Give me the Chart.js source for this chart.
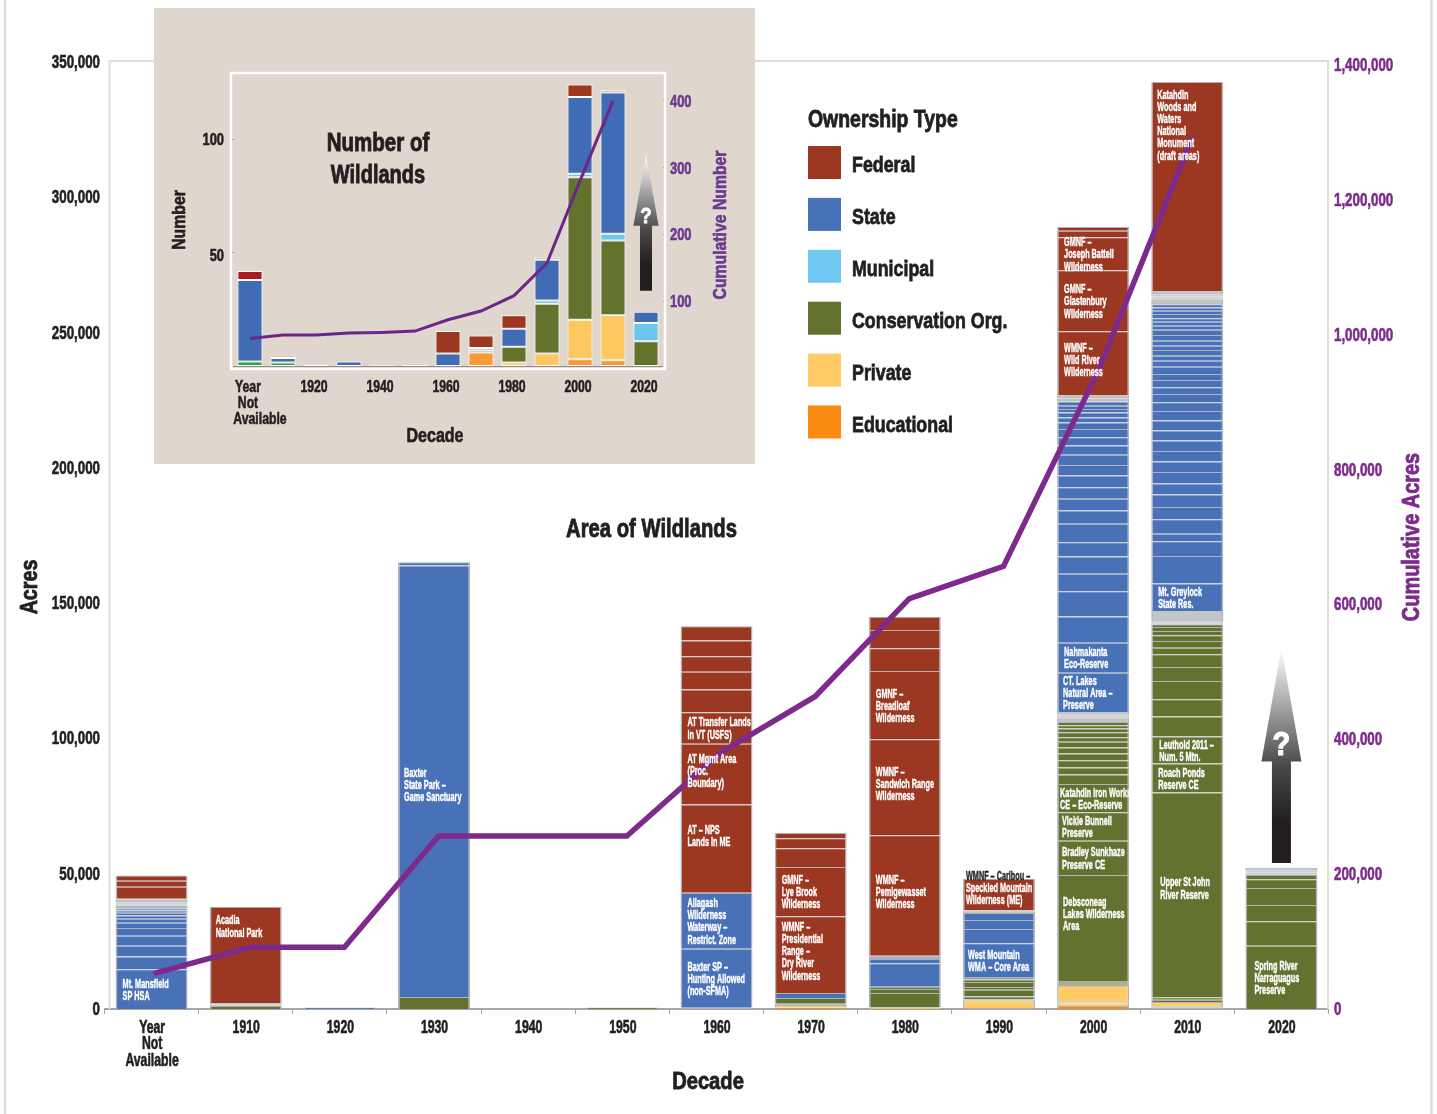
<!DOCTYPE html>
<html>
<head>
<meta charset="utf-8">
<title>Wildlands</title>
<script src="https://cdn.jsdelivr.net/npm/chart.js@4"></script>
<style>
    html, body { margin: 0; padding: 0; background: #fff; }
    #page { position: relative; width: 1437px; height: 1114px; overflow: hidden; }
    #mainChart { position: absolute; left: 0; top: 0; }
    #insetChart { position: absolute; left: 154px; top: 8px; background: #dfd6cd; }
</style>
</head>
<body>
<div id="page">
    <canvas id="mainChart" width="1437" height="1114"></canvas>
    <canvas id="insetChart" width="601" height="456"></canvas>
</div>
<script>
// main chart: one list per decade, each wildland from the ground up: [owner, acres, label]
const decades = [['Year', 'Not', 'Available'], '1910', '1920', '1930', '1940', '1950', '1960', '1970', '1980', '1990', '2000', '2010', '2020'];

const acresNA = [['S', 14700, 'Mt. Mansfield|SP HSA'], ['S', 4700], ['S', 3950], ['S', 3700], ['S', 2850], ['S', 2000], ['S', 1500], ['S', 1200], ['S', 1000], ['S', 800], ['S', 700], ['S', 600], ['S', 500], ['S', 430], ['S', 430], ['S', 430], ['S', 430], ['S', 430], ['S', 430], ['F', 4400], ['F', 2200], ['F', 2000]];
const acres1910 = [['C', 1200], ['S', 500], ['F', 500], ['F', 35600, 'Acadia|National Park']];
const acres1920 = [['S', 600]];
const acres1930 = [['C', 4400], ['S', 159500, 'Baxter|State Park –|Game Sanctuary'], ['S', 1200]];
const acres1940 = [['S', 200]];
const acres1950 = [['C', 600]];
const acres1960 = [['C', 500], ['S', 21800, 'Baxter SP –|Hunting Allowed|(non-SFMA)'], ['S', 20700, 'Allagash|Wilderness|Waterway –|Restrict. Zone'], ['F', 32600, 'AT – NPS|Lands in ME'], ['F', 22400, 'AT Mgmt Area|(Proc.|Boundary)'], ['F', 11700, 'AT Transfer Lands|in VT (USFS)'], ['F', 8400], ['F', 6500], ['F', 5800], ['F', 5800], ['F', 5300]];
const acres1970 = [['E', 600], ['P', 900], ['C', 400], ['C', 2200], ['S', 1850], ['F', 28300, 'WMNF –|Presidential|Range –|Dry River|Wilderness'], ['F', 18200, 'GMNF –|Lye Brook|Wilderness'], ['F', 7000], ['F', 3700], ['F', 1900]];
const acres1980 = [['P', 600], ['C', 5300], ['C', 1500], ['C', 800], ['S', 8700], ['S', 1650], ['S', 700], ['S', 400], ['F', 44600, 'WMNF –|Pemigewasset|Wilderness'], ['F', 35450, 'WMNF –|Sandwich Range|Wilderness'], ['F', 25200, 'GMNF –|Breadloaf|Wilderness'], ['F', 8400], ['F', 6750], ['F', 4950]];
const acres1990 = [['E', 300], ['P', 2600], ['P', 700], ['C', 1000], ['C', 2500], ['C', 1000], ['C', 1900], ['C', 900], ['C', 660], ['S', 12700, 'West Mountain|WMA – Core Area'], ['S', 5300], ['S', 3300], ['S', 2600], ['S', 500], ['S', 500], ['F', 11700, 'WMNF – Caribou –|Speckled Mountain|Wilderness (ME)']];
const acres2000 = [['E', 1100], ['P', 900], ['P', 900], ['P', 5700], ['C', 750], ['C', 750], ['C', 39400, 'Debsconeag|Lakes Wilderness|Area'], ['C', 12700, 'Bradley Sunkhaze|Preserve CE'], ['C', 10500, 'Vickie Bunnell|Preserve'], ['C', 10450, 'Katahdin Iron Works|CE – Eco-Reserve'], ['C', 3500], ['C', 2600], ['C', 2700], ['C', 2500], ['C', 2200], ['C', 2100], ['C', 1700], ['C', 1800], ['C', 1400], ['C', 1200], ['C', 1200], ['C', 400], ['C', 400], ['C', 400], ['C', 400], ['C', 400], ['C', 340], ['C', 340], ['C', 340], ['C', 340], ['C', 340], ['S', 14550, 'CT. Lakes|Natural Area –|Preserve'], ['S', 11100, 'Nahmakanta|Eco-Reserve'], ['S', 9700], ['S', 9250], ['S', 6500], ['S', 6400], ['S', 5300], ['S', 6800], ['S', 4900], ['S', 4300], ['S', 4300], ['S', 4300], ['S', 3950], ['S', 3700], ['S', 3450], ['S', 3050], ['S', 3050], ['S', 2450], ['S', 1850], ['S', 1850], ['S', 1250], ['S', 1200], ['S', 1600], ['S', 550], ['S', 550], ['S', 550], ['S', 550], ['F', 23750, 'WMNF –|Wild River|Wilderness'], ['F', 22500, 'GMNF –|Glastenbury|Wilderness'], ['F', 12200, 'GMNF –|Joseph Battell|Wilderness'], ['F', 2450], ['F', 1350]];
const acres2010 = [['E', 500], ['P', 500], ['P', 1600], ['C', 850], ['C', 850], ['C', 75700, 'Upper St John|River Reserve'], ['C', 10700, 'Roach Ponds|Reserve CE'], ['C', 9970, 'Leuthold 2011 –|Num. 5 Mtn.'], ['C', 7400], ['C', 6400], ['C', 6750], ['C', 5170], ['C', 4700], ['C', 2450], ['C', 2450], ['C', 2100], ['C', 1600], ['C', 1500], ['C', 1000], ['C', 385], ['C', 385], ['C', 385], ['C', 385], ['C', 385], ['C', 385], ['C', 385], ['C', 385], ['M', 370], ['M', 370], ['M', 370], ['M', 370], ['M', 370], ['S', 10100, 'Mt. Greylock|State Res.'], ['S', 10200], ['S', 5500], ['S', 2750], ['S', 5300], ['S', 4600], ['S', 4550], ['S', 4060], ['S', 4300], ['S', 3900], ['S', 3850], ['S', 3900], ['S', 3700], ['S', 3700], ['S', 3450], ['S', 3300], ['S', 3050], ['S', 2450], ['S', 2700], ['S', 2200], ['S', 2700], ['S', 2200], ['S', 1850], ['S', 2100], ['S', 1600], ['S', 1850], ['S', 2100], ['S', 1950], ['S', 1500], ['S', 1500], ['S', 1250], ['S', 1600], ['S', 1200], ['S', 1200], ['S', 1200], ['S', 410], ['S', 410], ['S', 410], ['S', 410], ['S', 410], ['S', 410], ['S', 410], ['S', 410], ['S', 410], ['S', 410], ['S', 410], ['S', 410], ['F', 77200, 'Katahdin|Woods and|Waters|National|Monument|(draft areas)']];
const acres2020 = [['C', 23400, 'Spring River|Narraguagus|Preserve'], ['C', 9000], ['C', 6000], ['C', 6300], ['C', 3300], ['C', 1600], ['C', 430], ['C', 430], ['C', 430], ['C', 430], ['C', 430], ['C', 430]];

const cumulativeAcres = [52000, 90000, 90000, 255000, 255000, 255000, 379000, 462000, 607000, 655000, 943000, 1289000, null];

// inset chart: number of wildlands by owner, bottom of the stack first
const insetLabels = [['Year', 'Not', 'Available'], '1910', '1920', '1930', '1940', '1950', '1960', '1970', '1980', '1990', '2000', '2010', '2020'];
const numEducational = [null, null, null, null, null, null, null, 6, null, null, 3, 2.5, null];
const numPrivate = [null, null, null, null, null, null, null, null, 1.5, 5.5, 17.5, 20, null];
const numConservation = [2, 1.5, null, null, null, 1, null, 1, 7, 22, 63, 33, 11];
const numMunicipal = [null, null, null, null, null, null, null, null, null, 1.5, 1.5, 3, 8];
const numState = [36, 2, 0.5, 2, 0.3, null, 5.5, 1, 8, 18, 34, 62.5, 5];
const numFederal = [4, 1, null, null, null, null, 10, 5.5, 6, 1, 5.5, 1, null];
const cumulativeNumber = [44, 49, 49, 52, 53, 55, 72, 85, 108, 157, 280, 400, null];

const leftTicks = [0, 50000, 100000, 150000, 200000, 250000, 300000, 350000];
const rightTicks = [0, 200000, 400000, 600000, 800000, 1000000, 1200000, 1400000];
const insetLeftTicks = [50, 100];
const insetRightTicks = [100, 200, 300, 400];

const legendNames = ['Federal', 'State', 'Municipal', 'Conservation Org.', 'Private', 'Educational'];
const legendKeys = ['F', 'S', 'M', 'C', 'P', 'E'];

const ownerColors = { F: '#9c3721', S: '#4871b8', M: '#6fc8f0', C: '#647230', P: '#fecb64', E: '#fa8a12' };
const INK = '#231f20';
const PURPLE = '#7e2a8d';
const INSET_PURPLE = '#6b3a90';
const FRAME = '#e3ddd3';
const SEPARATOR = '#b0b3b8';
const SANS = 'px "Liberation Sans", Arial, sans-serif';
const SLIVER_ACRES = 560;   // thinner than this, a wildland shows only as separator grey
const LINE_SHIFT = 4.5;     // the cumulative line sits a little right of the bar centres

// the source type is a heavy condensed face: squeeze sideways and thicken the stems
const labelNudge = {
    'Acadia': [-1, -29], 'Baxter': [-1, 3], 'Debsconeag': [-1, -15], 'Upper St John': [2, -7],
    'AT – NPS': [0, -13], 'WMNF – Caribou –': [-4, -7], 'AT Mgmt Area': [0, -4], 'Katahdin': [-1, -62],
    'Katahdin Iron Works': [-4, 0], 'Spring River': [2, 0], 'Leuthold 2011 –': [1, 0], 'West Mountain': [-2, 0],
    'Vickie Bunnell': [-2, 0], 'Bradley Sunkhaze': [-2, 0], 'CT. Lakes': [-1, 0], 'WMNF –': [0, -4]
};

function drawText(ctx, text, x, y, size, color, opts = {}) {
    ctx.save();
    ctx.translate(x, opts.rotate ? y : y + 1);
    if (opts.rotate) ctx.rotate(opts.rotate);
    ctx.scale(opts.squeeze || 1, 1);
    ctx.font = 'bold ' + size + SANS;
    ctx.fillStyle = color;
    ctx.strokeStyle = color;
    ctx.lineWidth = size * 0.035;
    ctx.textAlign = opts.align || 'center';
    ctx.textBaseline = 'middle';
    ctx.fillText(text, 0, 0);
    ctx.strokeText(text, 0, 0);
    ctx.restore();
}

function drawArrow(ctx, x, levels, headHalf, stemHalf) {
    const [stemEnd, headBase, tip] = levels;
    const gradient = ctx.createLinearGradient(0, tip, 0, stemEnd);
    gradient.addColorStop(0, '#ffffff');
    gradient.addColorStop(0.55, '#4a4849');
    gradient.addColorStop(0.8, INK);
    gradient.addColorStop(1, INK);
    ctx.fillStyle = gradient;
    ctx.beginPath();
    ctx.moveTo(x, tip);
    ctx.lineTo(x + headHalf, headBase);
    ctx.lineTo(x + stemHalf, headBase);
    ctx.lineTo(x + stemHalf, stemEnd);
    ctx.lineTo(x - stemHalf, stemEnd);
    ctx.lineTo(x - stemHalf, headBase);
    ctx.lineTo(x - headHalf, headBase);
    ctx.closePath();
    ctx.fill();
}

const acresByDecade = [acresNA, acres1910, acres1920, acres1930, acres1940, acres1950, acres1960, acres1970, acres1980, acres1990, acres2000, acres2010, acres2020];
const layerCount = Math.max(...acresByDecade.map(list => list.length));

function segmentColor(segment) {
    if (!segment) return 'transparent';
    return segment[1] < SLIVER_ACRES ? SEPARATOR : ownerColors[segment[0]];
}

function buildLayers() {
    const layers = [];
    for (let k = 0; k < layerCount; k++) {
        layers.push({
            type: 'bar',
            order: 1,
            xAxisID: 'x',
            yAxisID: 'y',
            stack: 'wildlands',
            data: acresByDecade.map(list => (list[k] ? list[k][1] : null)),
            backgroundColor: acresByDecade.map(list => segmentColor(list[k])),
            borderColor: SEPARATOR,
            borderWidth: { top: 1, left: 1.5, right: 1.5, bottom: 0 },
            borderSkipped: false,
            inflateAmount: 0,
            barPercentage: 0.765,
            categoryPercentage: 1
        });
    }
    return layers;
}

const mainDecorations = {
    id: 'mainDecorations',
    beforeDatasetsDraw(chart) {
        const ctx = chart.ctx;
        ctx.save();
        ctx.strokeStyle = FRAME;
        ctx.lineWidth = 2.5;
        ctx.beginPath();
        ctx.moveTo(5, 0); ctx.lineTo(5, 1114);
        ctx.moveTo(1431.5, 0); ctx.lineTo(1431.5, 1114);
        ctx.stroke();
        ctx.lineWidth = 2;
        ctx.beginPath();
        ctx.moveTo(109.5, 1009); ctx.lineTo(109.5, 61); ctx.lineTo(1328, 61); ctx.lineTo(1328, 1009);
        ctx.stroke();
        ctx.restore();
    },
    beforeDatasetDraw(chart, args) {
        if (args.index === 0) {
            chart.ctx.save();
            chart.ctx.translate(LINE_SHIFT, 0);
        }
    },
    afterDatasetDraw(chart, args) {
        if (args.index === 0) chart.ctx.restore();
    },
    afterDatasetsDraw(chart) {
        const ctx = chart.ctx;
        const { x, y, y1 } = chart.scales;

        // names written on the bars; dataset 0 is the line, so layers start at 1
        acresByDecade.forEach((list, barIndex) => {
            list.forEach((segment, k) => {
                if (!segment[2]) return;
                const bar = chart.getDatasetMeta(k + 1).data[barIndex];
                const lines = segment[2].split('|');
                const nudge = labelNudge[lines[0]] || [0, 0];
                const center = (bar.y + bar.base) / 2 + nudge[1];
                const left = bar.x - bar.width / 2 + 7 + nudge[0];
                lines.forEach((line, i) => {
                    const lineY = center + (i - (lines.length - 1) / 2) * 12.2;
                    const color = lineY < bar.y ? INK : '#ffffff';
                    drawText(ctx, line, left, lineY, 13, color, { align: 'left', squeeze: 0.56 });
                });
            });
        });

        // question mark arrow over the unfinished decade
        const arrowX = x.getPixelForValue(12);
        drawArrow(ctx, arrowX, [54000, 91500, 133500].map(v => y.getPixelForValue(v)), 20, 9.5);
        drawText(ctx, '?', arrowX, 745, 34, '#ffffff', { squeeze: 0.85 });

        // tick labels, squeezed, at the places the scales give
        y.ticks.forEach((tick, i) => {
            drawText(ctx, tick.label, 100, y.getPixelForTick(i), 18, INK, { align: 'right', squeeze: 0.74 });
        });
        y1.ticks.forEach((tick, i) => {
            drawText(ctx, tick.label, 1334, y1.getPixelForTick(i) + 1, 18, PURPLE, { align: 'left', squeeze: 0.74 });
        });
        x.ticks.forEach((tick, i) => {
            const lines = [].concat(tick.label);
            lines.forEach((line, n) => {
                drawText(ctx, line, x.getPixelForTick(i) + 0.5, 1027 + n * 16.5, 18, INK, { squeeze: 0.68 });
            });
        });

        // axis titles and chart title
        drawText(ctx, 'Acres', 30, 587, 24, INK, { rotate: -Math.PI / 2, squeeze: 0.82 });
        drawText(ctx, 'Cumulative Acres', 1412, 537, 24, PURPLE, { rotate: -Math.PI / 2, squeeze: 0.83 });
        drawText(ctx, 'Decade', 708, 1081, 24, INK, { squeeze: 0.84 });
        drawText(ctx, 'Area of Wildlands', 651.5, 529, 25, INK, { squeeze: 0.81 });

        // legend
        drawText(ctx, 'Ownership Type', 808, 119, 24, INK, { align: 'left', squeeze: 0.81 });
        legendNames.forEach((name, i) => {
            const top = 146 + i * 51.9;
            ctx.fillStyle = ownerColors[legendKeys[i]];
            ctx.fillRect(808, top, 33, 33);
            drawText(ctx, name, 852, top + 19, 22, INK, { align: 'left', squeeze: 0.81 });
        });
    }
};

new Chart(document.getElementById('mainChart'), {
    data: {
        labels: decades,
        datasets: [
            {
                type: 'line',
                order: 0,
                xAxisID: 'x',
                yAxisID: 'y1',
                data: cumulativeAcres,
                borderColor: PURPLE,
                borderWidth: 5.5,
                pointRadius: 0,
                tension: 0,
                borderCapStyle: 'round',
                borderJoinStyle: 'miter'
            },
            ...buildLayers()
        ]
    },
    options: {
        responsive: false,
        animation: false,
        layout: { autoPadding: false, padding: { top: 62, left: 0, right: 0, bottom: 0 } },
        plugins: { legend: { display: false }, tooltip: { enabled: false } },
        scales: {
            x: {
                stacked: true,
                afterFit: scale => { scale.height = 105; },
                border: { color: '#a3a5a8', width: 2 },
                grid: { drawOnChartArea: false, color: '#a3a5a8', tickLength: 5, offset: true },
                ticks: { display: false, autoSkip: false, maxRotation: 0 }
            },
            y: {
                stacked: true,
                position: 'left',
                min: 0,
                max: 350000,
                afterFit: scale => { scale.width = 104.5; },
                afterBuildTicks: scale => { scale.ticks = leftTicks.map(value => ({ value })); },
                border: { display: false },
                grid: { display: false },
                ticks: { display: false, callback: value => value.toLocaleString('en-US') }
            },
            y1: {
                stacked: false,
                position: 'right',
                min: -1500,
                max: 1403000,
                afterFit: scale => { scale.width = 108.5; },
                afterBuildTicks: scale => { scale.ticks = rightTicks.map(value => ({ value })); },
                border: { display: false },
                grid: { display: false },
                ticks: { display: false, callback: value => value.toLocaleString('en-US') }
            }
        }
    },
    plugins: [mainDecorations]
});

// inset
function insetBars(values, color) {
    return {
        type: 'bar',
        order: 1,
        xAxisID: 'x',
        yAxisID: 'y',
        stack: 'count',
        data: values,
        backgroundColor: color,
        borderColor: '#ffffff',
        borderWidth: 1,
        borderSkipped: false,
        inflateAmount: 0,
        barPercentage: 0.76,
        categoryPercentage: 1
    };
}

const insetDecorations = {
    id: 'insetDecorations',
    beforeDatasetsDraw(chart) {
        const ctx = chart.ctx;
        ctx.save();
        ctx.strokeStyle = '#ffffff';
        ctx.lineWidth = 2.5;
        ctx.strokeRect(77, 65, 434, 296);
        ctx.restore();
    },
    afterDatasetsDraw(chart) {
        const ctx = chart.ctx;
        const { x, y, y1 } = chart.scales;
        const arrowX = x.getPixelForValue(12);
        drawArrow(ctx, arrowX, [33.3, 62, 93.4].map(v => y.getPixelForValue(v)), 12.6, 6);
        drawText(ctx, '?', arrowX, 207.5, 22, '#ffffff', { squeeze: 0.85 });

        y.ticks.forEach((tick, i) => {
            const shift = tick.value === 50 ? 2 : -1;
            drawText(ctx, tick.label, 70, y.getPixelForTick(i) + shift, 17, INK, { align: 'right', squeeze: 0.76 });
        });
        y1.ticks.forEach((tick, i) => {
            drawText(ctx, tick.label, 516, y1.getPixelForTick(i) + 0.5, 17, INSET_PURPLE, { align: 'left', squeeze: 0.76 });
        });
        // only every second decade is written; the first label hangs off to the right
        x.ticks.forEach((tick, i) => {
            if (i % 2 !== 0) return;
            const lines = [].concat(tick.label);
            lines.forEach((line, n) => {
                const shift = line === 'Available' ? 12 : 0;
                drawText(ctx, line, x.getPixelForTick(i) - 2 + shift, 378 + n * 16, 17, INK, { squeeze: 0.72 });
            });
        });

        drawText(ctx, 'Number of', 224, 135, 25, INK, { squeeze: 0.82 });
        drawText(ctx, 'Wildlands', 224, 167, 25, INK, { squeeze: 0.8 });
        drawText(ctx, 'Number', 26, 212, 19, INK, { rotate: -Math.PI / 2, squeeze: 0.83 });
        drawText(ctx, 'Cumulative Number', 567, 217, 19, INSET_PURPLE, { rotate: -Math.PI / 2, squeeze: 0.83 });
        drawText(ctx, 'Decade', 281, 428, 19.5, INK, { squeeze: 0.82 });
    }
};

new Chart(document.getElementById('insetChart'), {
    data: {
        labels: insetLabels,
        datasets: [
            {
                type: 'line',
                order: 0,
                xAxisID: 'x',
                yAxisID: 'y1',
                data: cumulativeNumber,
                borderColor: '#6d2587',
                borderWidth: 3,
                pointRadius: 0,
                tension: 0
            },
            insetBars(numEducational, '#f99a35'),
            insetBars(numPrivate, '#fdc860'),
            insetBars(numConservation, numConservation.map((v, i) => (i < 2 ? '#2aa84a' : '#63732e'))),
            insetBars(numMunicipal, '#6cc6ee'),
            insetBars(numState, '#3f6cb4'),
            insetBars(numFederal, numFederal.map((v, i) => (i < 2 ? '#a81c20' : '#9c3721')))
        ]
    },
    options: {
        responsive: false,
        animation: false,
        layout: { autoPadding: false, padding: { top: 65, left: 0, right: 0, bottom: 0 } },
        plugins: { legend: { display: false }, tooltip: { enabled: false } },
        scales: {
            x: {
                stacked: true,
                afterFit: scale => { scale.height = 98; },
                border: { color: '#8f8d8b', width: 1 },
                grid: { display: false },
                ticks: { display: false, autoSkip: false, maxRotation: 0 }
            },
            y: {
                stacked: true,
                position: 'left',
                min: 0,
                max: 129.6,
                afterFit: scale => { scale.width = 79.5; },
                afterBuildTicks: scale => { scale.ticks = insetLeftTicks.map(value => ({ value })); },
                border: { display: false },
                grid: { drawOnChartArea: false, color: '#8f8d8b', tickLength: 3 },
                ticks: { display: false }
            },
            y1: {
                stacked: false,
                position: 'right',
                min: 2.7,
                max: 441.5,
                afterFit: scale => { scale.width = 92.5; },
                afterBuildTicks: scale => { scale.ticks = insetRightTicks.map(value => ({ value })); },
                border: { display: false },
                grid: { drawOnChartArea: false, color: '#8f8d8b', tickLength: 3 },
                ticks: { display: false }
            }
        }
    },
    plugins: [insetDecorations]
});
</script>
</body>
</html>
